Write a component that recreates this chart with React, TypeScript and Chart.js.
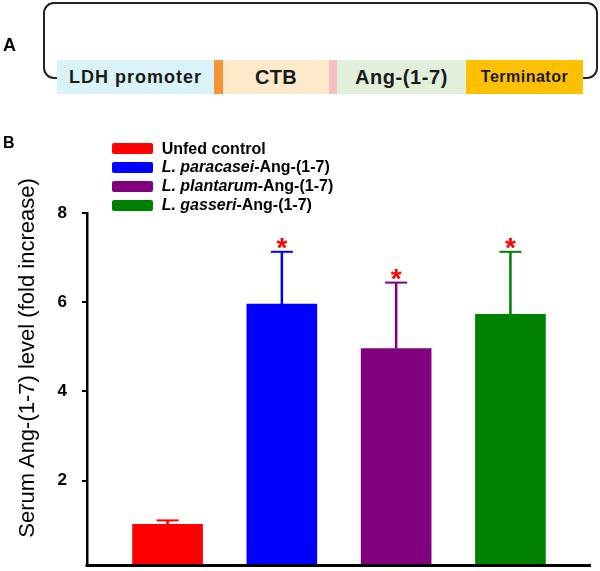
import React, { useEffect, useRef } from 'react';
import { Chart, registerables } from 'chart.js';

Chart.register(...registerables);

// ---- data ----
const categories = ['Unfed control', 'L. paracasei-Ang-(1-7)', 'L. plantarum-Ang-(1-7)', 'L. gasseri-Ang-(1-7)'];
const legendItalic = ['', 'L. paracasei', 'L. plantarum', 'L. gasseri'];
const legendPlain = ['Unfed control', '-Ang-(1-7)', '-Ang-(1-7)', '-Ang-(1-7)'];
const means = [1.02, 5.96, 4.96, 5.73];
const errorsUp = [0.09, 1.17, 1.48, 1.4];
const significant = [false, true, true, true];
const barColors = ['#FF0000', '#0000FF', '#800080', '#008000'];
const yTicks = [2, 4, 6, 8];
const yTitle = 'Serum Ang-(1-7) level (fold increase)';
const constructLabels = ['LDH promoter', '', 'CTB', '', 'Ang-(1-7)', 'Terminator'];

const FONT = '"Liberation Sans", Arial, Helvetica, sans-serif';

// layout/style for the construct diagram (panel A)
const constructLayout = [
  { left: 57, right: 214, bg: '#DAF3F9', size: 18, ls: 1 },
  { left: 214, right: 223, bg: '#F7913A', size: 0, ls: 0 },
  { left: 223, right: 329, bg: '#FDEACB', size: 20, ls: 0.3 },
  { left: 329, right: 337, bg: '#F8BDC2', size: 0, ls: 0 },
  { left: 337, right: 466, bg: '#E2EFDA', size: 20, ls: 0.6 },
  { left: 466, right: 583, bg: '#FFC000', size: 16, ls: 0.5 },
];

const CANVAS_H = 620;

const errorBarPlugin = {
  id: 'errorBars',
  afterDatasetsDraw(chart: any) {
    const ctx = chart.ctx;
    const area = chart.chartArea;
    const meta = chart.getDatasetMeta(0);
    const ys = chart.scales.y;
    meta.data.forEach((el: any, i: number) => {
      const x = el.x;
      const top = el.y;
      const capY = ys.getPixelForValue(means[i] + errorsUp[i]);
      ctx.save();
      ctx.strokeStyle = barColors[i];
      ctx.lineWidth = 2.5;
      ctx.beginPath();
      ctx.moveTo(x, top);
      ctx.lineTo(x, capY);
      ctx.stroke();
      ctx.lineWidth = 2;
      ctx.beginPath();
      ctx.moveTo(x - 11, capY);
      ctx.lineTo(x + 11, capY);
      ctx.stroke();
      if (significant[i]) {
        ctx.font = `bold 100px ${FONT}`;
        const m100 = ctx.measureText('*');
        const h100 = m100.actualBoundingBoxAscent + m100.actualBoundingBoxDescent;
        const size = (100 * 10.6) / (h100 || 30);
        ctx.font = `bold ${size}px ${FONT}`;
        const m = ctx.measureText('*');
        ctx.fillStyle = '#FF0000';
        ctx.textAlign = 'center';
        ctx.textBaseline = 'alphabetic';
        const base = capY - 3 - m.actualBoundingBoxDescent;
        ctx.fillText('*', x, base);
      }
      ctx.restore();
    });
    // x-axis baseline
    ctx.save();
    ctx.strokeStyle = '#000';
    ctx.lineWidth = 3;
    ctx.beginPath();
    ctx.moveTo(area.left - 1.5, area.bottom);
    ctx.lineTo(area.right, area.bottom);
    ctx.stroke();
    ctx.restore();
  },
};

export default function App() {
  const canvasRef = useRef<HTMLCanvasElement | null>(null);

  useEffect(() => {
    if (!canvasRef.current) return;
    const chart = new Chart(canvasRef.current, {
      type: 'bar',
      data: {
        datasets: [
          {
            label: 'Serum Ang-(1-7)',
            data: means.map((v, i) => ({ x: i, y: v })),
            backgroundColor: barColors,
            borderWidth: 0,
            barThickness: 70,
          } as any,
        ],
      },
      options: {
        animation: false,
        responsive: false,
        devicePixelRatio: 1,
        events: [],
        layout: { padding: { left: 47, right: 9, top: 213, bottom: CANVAS_H - 565.5 } },
        plugins: {
          legend: { display: false },
          tooltip: { enabled: false },
          title: { display: false },
        },
        scales: {
          x: {
            type: 'linear',
            display: false,
            min: -0.705,
            max: 3.705,
            offset: false,
          },
          y: {
            type: 'linear',
            min: 0.1,
            max: 8,
            afterBuildTicks: (s: any) => {
              s.ticks = yTicks.map((v) => ({ value: v }));
            },
            afterFit: (s: any) => {
              s.width = 40;
            },
            grid: {
              display: true,
              drawOnChartArea: false,
              drawTicks: true,
              tickLength: 5,
              color: '#000',
              lineWidth: 2,
            },
            border: { display: true, color: '#000', width: 2.5 },
            ticks: {
              color: '#000',
              padding: 15,
              font: { family: FONT, size: 17, weight: 'bold' },
            },
          },
        },
      } as any,
      plugins: [errorBarPlugin],
    });
    return () => chart.destroy();
  }, []);

  return (
    <div
      style={{
        position: 'absolute',
        left: 0,
        top: 0,
        width: 600,
        height: 571,
        background: '#fff',
        overflow: 'hidden',
        fontFamily: FONT,
        color: '#000',
      }}
    >
      <canvas
        ref={canvasRef}
        width={600}
        height={CANVAS_H}
        style={{ position: 'absolute', left: 0, top: 0, width: 600, height: CANVAS_H }}
      />

      {/* Panel A */}
      <div style={{ position: 'absolute', left: 3, top: 33, fontSize: 18, fontWeight: 'bold', lineHeight: '24px' }}>A</div>
      <div
        style={{
          position: 'absolute',
          left: 43,
          top: 2,
          width: 555,
          height: 77,
          boxSizing: 'border-box',
          border: '2px solid #222',
          borderRadius: 11,
        }}
      />
      {constructLayout.map((seg, i) => (
        <div
          key={i}
          style={{
            position: 'absolute',
            left: seg.left,
            top: 60,
            width: seg.right - seg.left,
            height: 34,
            background: seg.bg,
            display: 'flex',
            alignItems: 'center',
            justifyContent: 'center',
            fontWeight: 'bold',
            fontSize: seg.size || 12,
            letterSpacing: seg.ls,
            color: '#1a1a1a',
            whiteSpace: 'nowrap',
          }}
        >
          {constructLabels[i]}
        </div>
      ))}

      {/* Panel B */}
      <div style={{ position: 'absolute', left: 3, top: 132, fontSize: 16, fontWeight: 'bold', lineHeight: '22px' }}>B</div>

      {categories.map((c, i) => (
        <div
          key={c}
          style={{
            position: 'absolute',
            left: 111.7,
            top: 148.7 + i * 18.8 - 9.4,
            height: 18.8,
            display: 'flex',
            alignItems: 'center',
            whiteSpace: 'nowrap',
          }}
        >
          <div style={{ width: 41.6, height: 11, background: barColors[i], borderRadius: 2, marginRight: 8.4 }} />
          <span style={{ fontSize: 16, fontWeight: 'bold', lineHeight: '18px' }}>
            {legendItalic[i] ? <i>{legendItalic[i]}</i> : null}
            {legendPlain[i]}
          </span>
        </div>
      ))}

      <div
        style={{
          position: 'absolute',
          left: 27,
          top: 358.4,
          transform: 'translate(-50%, -50%) rotate(-90deg)',
          fontSize: 22,
          whiteSpace: 'nowrap',
          lineHeight: '26px',
        }}
      >
        {yTitle}
      </div>
    </div>
  );
}
